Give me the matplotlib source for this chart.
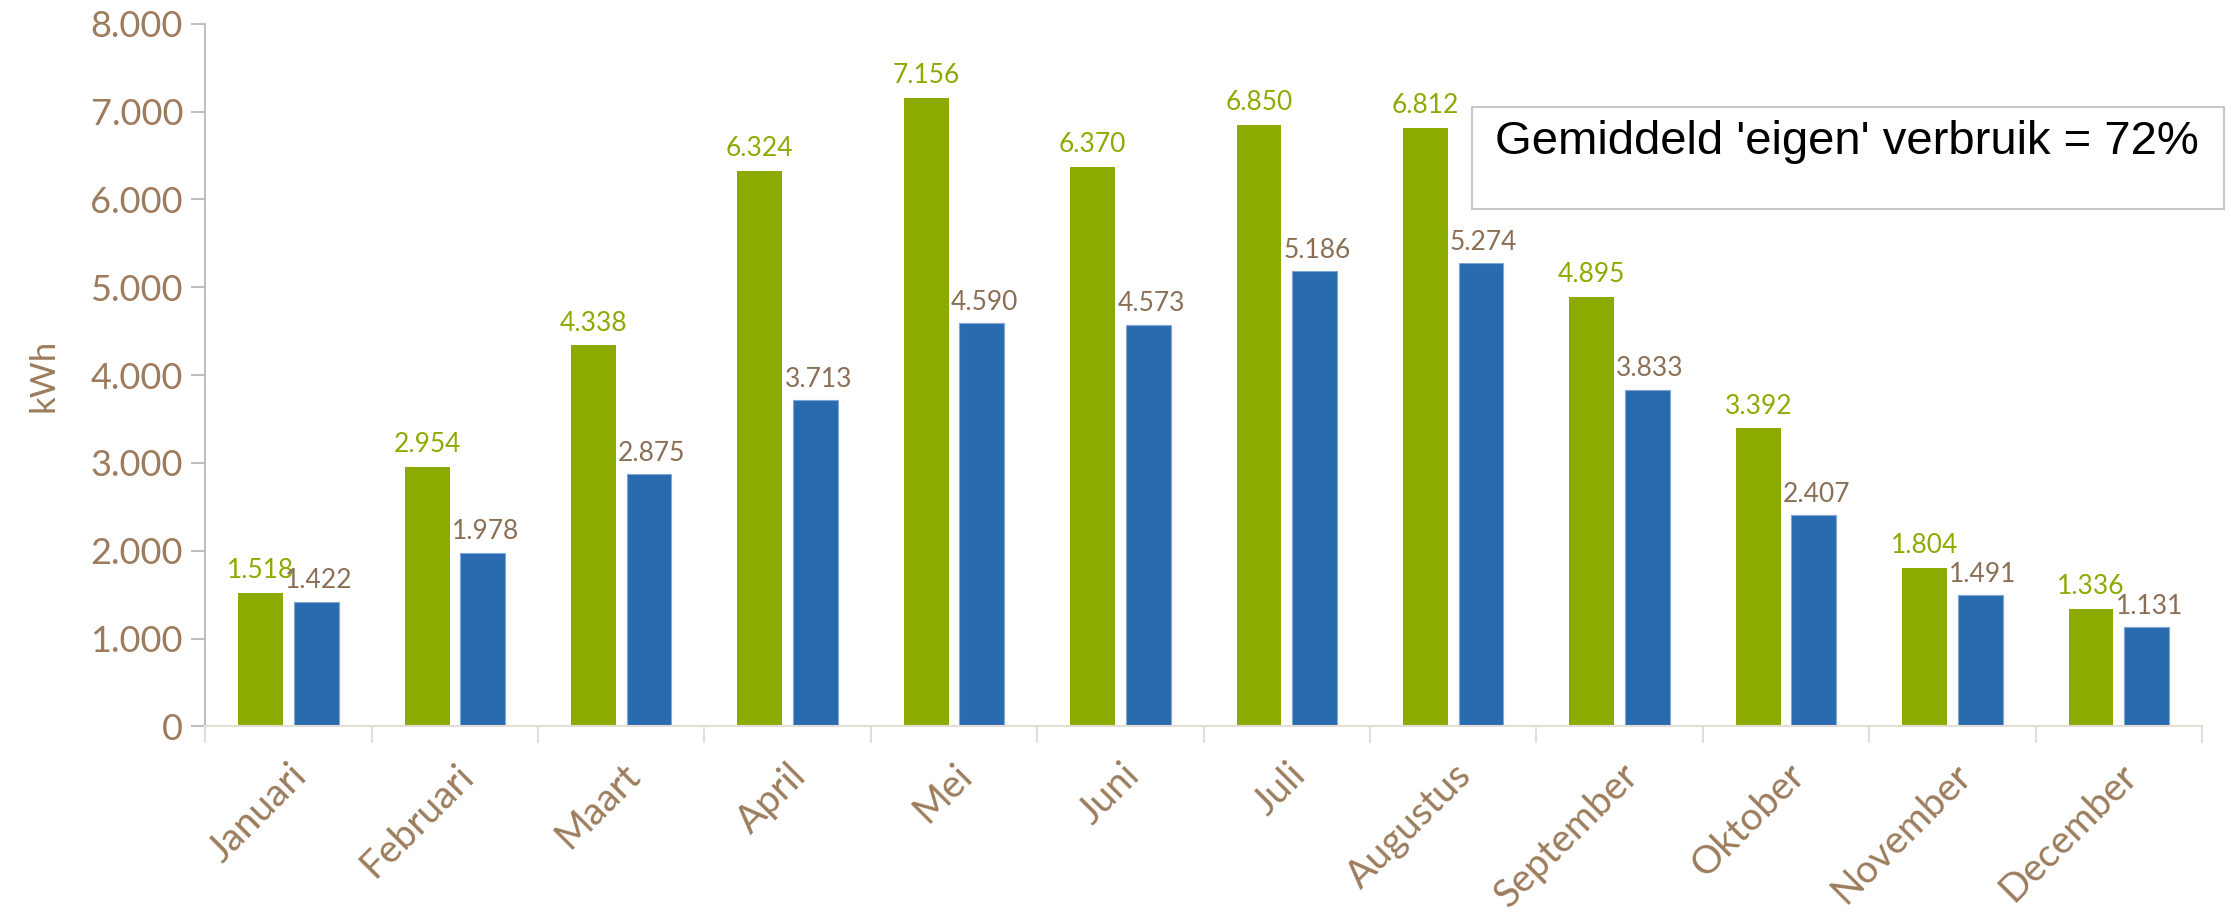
import numpy as np
import matplotlib.pyplot as plt
from matplotlib.ticker import FuncFormatter

maanden = ["Januari", "Februari", "Maart", "April", "Mei", "Juni", "Juli",
           "Augustus", "September", "Oktober", "November", "December"]
opbrengst = [1518, 2954, 4338, 6324, 7156, 6370, 6850, 6812, 4895, 3392, 1804, 1336]
verbruik = [1422, 1978, 2875, 3713, 4590, 4573, 5186, 5274, 3833, 2407, 1491, 1131]
y_ticks = [0, 1000, 2000, 3000, 4000, 5000, 6000, 7000, 8000]

groen = "#8cab00"
blauw = "#2a6bb0"
bruin = "#9c7c5c"
bruin_donker = "#8b6f55"

plt.rcParams['font.family'] = ['Lato', 'DejaVu Sans']

fig = plt.figure(figsize=(22.31, 9.16), dpi=100)
ax = fig.add_axes([0.092, 0.207, 0.895, 0.767])

x = np.arange(len(maanden))
w = 0.27
ax.bar(x - 0.167, opbrengst, w, color=groen)
ax.bar(x + 0.167, verbruik, w, color=blauw, edgecolor="#7fa6d4", linewidth=0.8)

def fmt(v):
    return f"{int(v):,}".replace(",", ".")

for i in range(len(maanden)):
    ax.annotate(fmt(opbrengst[i]), (x[i] - 0.167, opbrengst[i]), xytext=(0, 7),
                textcoords="offset points", ha="center", va="bottom",
                color=groen, fontsize=19)
    ax.annotate(fmt(verbruik[i]), (x[i] + 0.167, verbruik[i]), xytext=(2, 6),
                textcoords="offset points", ha="center", va="bottom",
                color=bruin_donker, fontsize=19)

ax.set_xlim(-0.5, len(maanden) - 0.5)
ax.set_ylim(0, 8000)
ax.set_yticks(y_ticks)
ax.yaxis.set_major_formatter(FuncFormatter(lambda v, p: fmt(v)))
ax.tick_params(axis="y", colors="#bfbfbf", labelcolor=bruin, labelsize=26,
               length=10, width=1.5, pad=6)

ax.set_xticks(x)
ax.set_xticklabels(maanden, rotation=45, ha="right", rotation_mode="anchor")
ax.tick_params(axis="x", length=0, labelcolor=bruin, labelsize=28, pad=22)
ax.set_xticks(np.arange(-0.5, len(maanden)), minor=True)
ax.tick_params(axis="x", which="minor", length=12, width=1.5, color="#e4ddd5")

for s in ["top", "right"]:
    ax.spines[s].set_visible(False)
ax.spines["left"].set_color("#bfbfbf")
ax.spines["left"].set_linewidth(1.5)
ax.spines["bottom"].set_color("#e4ddd5")
ax.spines["bottom"].set_linewidth(1.5)

ax.set_ylabel("kWh", color=bruin, fontsize=25, labelpad=22)

# tekstvak
fig.patches.append(plt.Rectangle((0.660, 0.772), 0.337, 0.111, transform=fig.transFigure,
                                 facecolor="white", edgecolor="#c8c8c8", linewidth=1.5))
fig.text(0.828, 0.845, "Gemiddeld 'eigen' verbruik = 72%", ha="center", va="center",
         fontsize=34, family="Liberation Sans", color="black")

fig.savefig("out.png", dpi=100)
